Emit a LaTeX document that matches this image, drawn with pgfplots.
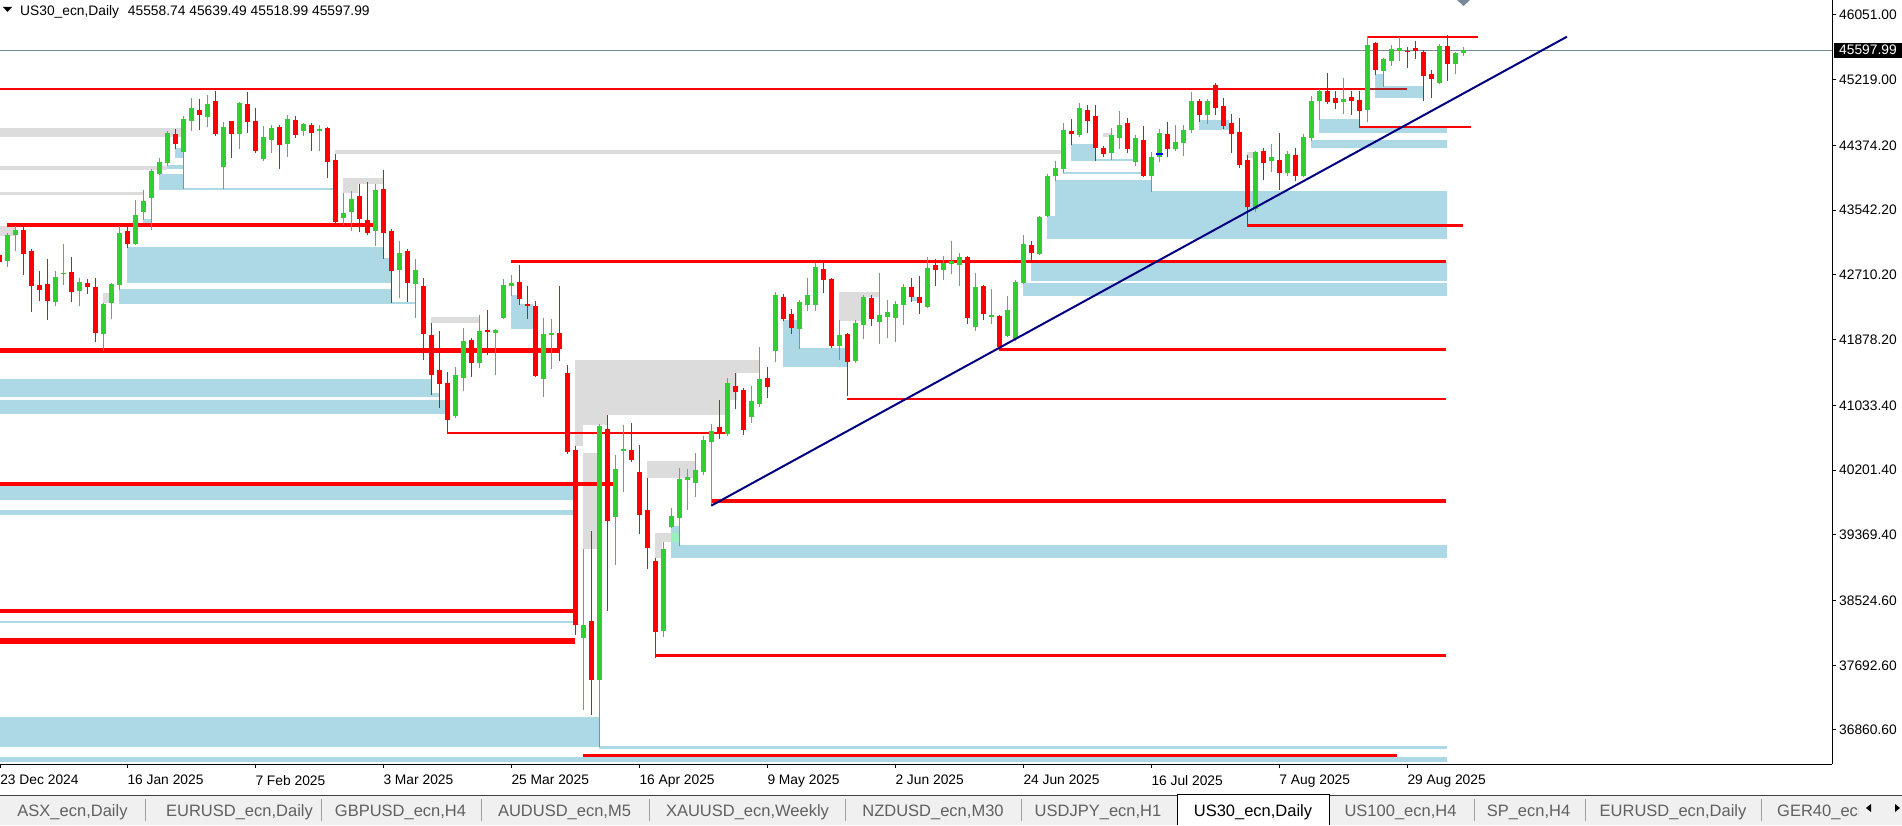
\documentclass[border=0pt]{standalone}
\usepackage{fontspec}
\setmainfont{Liberation Sans}
\usepackage{pgfplots}
\usepackage{pgfplotstable}
\pgfplotsset{compat=1.18}
\definecolor{cgreen}{HTML}{32CD32}
\definecolor{cred}{HTML}{FF0000}
\definecolor{dred}{HTML}{B22222}
\definecolor{zblue}{HTML}{ADD8E6}
\definecolor{zgray}{HTML}{DCDCDC}
\definecolor{lgreen}{HTML}{9BF0C0}
\definecolor{tline}{HTML}{000080}
\definecolor{pline}{HTML}{778899}
\definecolor{tabbg}{HTML}{F0F0F0}
\definecolor{tabtxt}{HTML}{606060}
\definecolor{tabsep}{HTML}{A0A0A0}
\newcommand{\lblfont}{\fontsize{13.8}{15}\selectfont}
\newcommand{\tabfont}{\fontsize{16.5}{18}\selectfont}
\newcommand{\zone}[5]{\addplot[draw=none, fill=#1, forget plot] coordinates {(#2,#4) (#3,#4) (#3,#5) (#2,#5)};}
\newcommand{\rline}[5]{\addplot[draw=#1, line width=#5pt, forget plot] coordinates {(#2,#4) (#3,#4)};}

% bar index (0 = 23 Dec 2024), open, high, low, close
\pgfplotstableread{
i O H L C
0 42966 43009 42837 42880
1 42893 43253 42816 43223
2 43227 43343 43022 43287
3 43287 43330 42709 42983
4 43017 43043 42237 42572
5 42580 42760 42379 42516
6 42593 42914 42135 42379
7 42366 42760 42315 42683
8 42722 43107 42584 42734
9 42747 42940 42366 42494
10 42507 42670 42315 42619
11 42606 42653 42469 42559
12 42554 42670 41852 41967
13 41955 42345 41736 42336
14 42353 42610 42147 42593
15 42584 43343 42516 43249
16 43262 43330 43060 43112
17 43112 43673 43094 43480
18 43523 43801 43416 43660
19 43703 44067 43287 44046
20 44007 44213 43994 44149
21 44153 44560 44110 44534
22 44521 44586 44329 44393
23 44294 44753 43814 44714
24 44693 44984 44564 44843
25 44830 44971 44573 44770
26 44744 45023 44616 44907
27 44933 45074 44500 44521
28 44101 44676 43819 44611
29 44676 44688 44217 44526
30 44526 44933 44333 44920
31 44907 45061 44538 44680
32 44688 44856 44281 44307
33 44204 44624 44179 44483
34 44448 44637 44281 44598
35 44611 44637 44076 44384
36 44397 44766 44230 44714
37 44701 44753 44474 44513
38 44564 44663 44500 44650
39 44637 44663 44307 44538
40 44564 44637 44307 44585
41 44598 44605 43951 44166
42 44187 44264 43373 43394
43 43446 43759 43352 43506
44 43523 43789 43279 43686
45 43712 43879 43266 43433
46 43416 43904 43219 43253
47 43279 43879 43086 43789
48 43814 44059 42919 43253
49 43262 43300 42353 42765
50 42777 43146 42417 42992
51 43017 43043 42366 42610
52 42597 42915 42160 42773
53 42567 42670 41620 41955
54 41938 42092 41171 41428
55 41488 41989 41003 41312
56 41321 41462 40669 40849
57 40901 41526 40875 41423
58 41389 42028 41222 41860
59 41873 41899 41402 41582
60 41582 42195 41518 41989
61 42002 42259 41685 41980
62 41968 42015 41428 42002
63 42160 42657 42148 42580
64 42572 42709 42443 42606
65 42619 42837 42328 42405
66 42332 42567 42148 42315
67 42310 42375 41402 41415
68 41376 42156 41145 41950
69 41942 42143 41505 41963
70 41963 42567 41608 41762
71 41449 41552 40412 40434
72 40447 40511 38086 38214
73 38047 39187 37121 38210
74 38261 39418 37057 37507
75 37507 40794 36646 40768
76 40729 40909 38394 39551
77 39602 40395 38985 40215
78 40451 40781 39924 40464
79 40459 40806 40309 40335
80 40177 40524 39384 39628
81 39688 40099 38934 39204
82 39032 39071 37790 38124
83 38137 39277 38060 39187
84 39474 39714 39452 39611
85 39590 40228 39230 40087
86 40078 40215 39692 40112
87 40039 40421 39859 40202
88 40181 40639 40142 40588
89 40566 40794 39744 40704
90 40755 41102 40605 40682
91 40669 41385 40644 41321
92 41282 41449 40991 41209
93 41231 41256 40656 40721
94 40888 41282 40811 41089
95 41055 41783 41016 41372
96 41385 41526 41132 41273
97 41736 42490 41595 42452
98 42426 42465 42122 42148
99 42199 42276 41955 42032
100 42019 42387 41762 42362
101 42327 42670 42250 42452
102 42327 42867 42250 42812
103 42786 42867 42482 42649
104 42657 42670 41775 41796
105 41800 42130 41620 41937
106 41950 41963 41158 41595
107 41608 42135 41582 42092
108 42070 42452 41890 42426
109 42413 42452 42058 42147
110 42109 42739 41826 42195
111 42173 42387 41903 42233
112 42160 42379 41852 42336
113 42327 42593 42070 42555
114 42555 42670 42366 42430
115 42426 42696 42212 42353
116 42302 42940 42280 42799
117 42837 42914 42572 42777
118 42777 42953 42649 42863
119 42854 43146 42726 42889
120 42842 42992 42572 42940
121 42940 42949 42083 42160
122 42045 42735 41993 42555
123 42567 42580 42135 42212
124 42173 42529 42083 42195
125 42182 42195 41745 41783
126 41929 42439 41916 42259
127 41890 42645 41865 42619
128 42610 43223 42597 43107
129 43094 43146 42902 42996
130 42983 43467 42970 43442
131 43472 44007 43458 43969
132 43986 44174 43921 44084
133 44076 44663 44024 44573
134 44560 44714 44384 44526
135 44513 44920 44487 44843
136 44830 44894 44530 44693
137 44753 44894 44178 44340
138 44341 44371 44230 44268
139 44281 44594 44191 44496
140 44474 44817 44333 44637
141 44663 44727 44281 44333
142 44166 44508 44114 44470
143 44444 44624 43973 43986
144 43986 44290 43780 44226
145 44230 44586 44166 44534
146 44521 44676 44230 44333
147 44333 44637 44307 44418
148 44410 44637 44243 44573
149 44577 45061 44538 44933
150 44945 44971 44680 44770
151 44770 44971 44654 44933
152 45151 45177 44770 44860
153 44881 44984 44590 44628
154 44663 44783 44281 44526
155 44547 44727 44088 44127
156 44187 44251 43330 43587
157 43561 44307 43523 44290
158 44303 44341 43934 44153
159 44178 44393 44037 44226
160 44187 44534 43806 44024
161 44024 44303 43986 44264
162 44251 44341 43921 43986
163 43986 44521 43973 44483
164 44474 45010 44436 44945
165 44945 45100 44706 45074
166 45074 45305 44911 44937
167 44984 45074 44847 44924
168 44937 45241 44783 44971
169 44997 45074 44770 44950
170 44958 45074 44616 44821
171 44834 45781 44680 45665
172 45691 45704 45284 45348
173 45335 45494 45130 45485
174 45464 45665 45400 45614
175 45593 45768 45464 45627
176 45588 45640 45374 45580
177 45627 45717 45490 45593
178 45575 45601 44950 45271
179 45292 45344 44988 45232
180 45181 45678 45168 45652
181 45652 45794 45207 45425
182 45425 45575 45297 45562
183 45558.74 45639.49 45518.99 45597.99
}\ohlc

\begin{document}
\begin{tikzpicture}
\useasboundingbox (0pt,0pt) rectangle (1902pt,825pt);
\begin{axis}[
  at={(0pt,61pt)}, anchor=south west,
  scale only axis, width=1832pt, height=764pt,
  xmin=0.0875, xmax=229.09, ymin=36423.3, ymax=46243.8,
  scaled x ticks=false, scaled y ticks=false,
  axis x line*=bottom, axis y line*=right,
  axis line style={black, line width=1pt},
  clip mode=individual,
  xtick={0.1,16,32,48,64,80,96,112,128,144,160,176},
  xticklabels={23 Dec 2024,16 Jan 2025,7 Feb 2025,3 Mar 2025,25 Mar 2025,16 Apr 2025,9 May 2025,2 Jun 2025,24 Jun 2025,16 Jul 2025,7 Aug 2025,29 Aug 2025},
  ytick={46051,45219,44374.2,43542.2,42710.2,41878.2,41033.4,40201.4,39369.4,38524.6,37692.6,36860.6},
  yticklabels={46051.00,45219.00,44374.20,43542.20,42710.20,41878.20,41033.40,40201.40,39369.40,38524.60,37692.60,36860.60},
  tick align=outside, major tick length=4pt,
  tick style={black, line width=1pt},
  xticklabel style={anchor=north west, inner sep=0pt, yshift=-7pt, font=\lblfont},
  yticklabel style={anchor=west, inner sep=0pt, xshift=3pt, font=\lblfont},
]
% gray zones
\zone{zgray}{0.0875}{22.84}{44598}{44483}
\zone{zgray}{0.0875}{20.96}{44110}{44058}
\zone{zgray}{0.0875}{17.96}{43776}{43737}
\zone{zgray}{0.0875}{1.96}{43339}{43210}
\zone{zgray}{12.96}{13.84}{42478}{42349}
\zone{zgray}{41.96}{132.96}{44316}{44264}
\zone{zgray}{42.96}{47.96}{43956}{43879}
\zone{zgray}{42.96}{44.84}{43879}{43763}
\zone{zgray}{53.96}{59.96}{42169}{42092}
\zone{zgray}{71.96}{94.96}{41616}{41449}
\zone{zgray}{71.96}{92.21}{41449}{41102}
\zone{zgray}{71.96}{90.71}{41102}{40909}
\zone{zgray}{71.96}{75.96}{40909}{40781}
\zone{zgray}{71.96}{72.96}{40781}{40511}
\zone{zgray}{72.96}{74.71}{40421}{39187}
\zone{zgray}{80.96}{86.96}{40318}{40100}
\zone{zgray}{81.96}{83.96}{39393}{39277}
\zone{zgray}{81.96}{82.8}{39277}{39071}
\zone{zgray}{104.96}{109.96}{42490}{42426}
\zone{zgray}{104.96}{107.71}{42426}{42118}
\zone{zgray}{137.96}{138.96}{44534}{44483}
\zone{zgray}{155.96}{156.71}{44290}{44213}
% blue zones
\zone{zblue}{21.96}{22.96}{44341}{44213}
\zone{zblue}{20.96}{22.96}{44123}{44072}
\zone{zblue}{19.96}{22.96}{44007}{43801}
\zone{zblue}{22.96}{41.84}{43827}{43801}
\zone{zblue}{17.96}{19.09}{43429}{43364}
\zone{zblue}{15.96}{47.96}{43069}{42606}
\zone{zblue}{47.96}{49.09}{42927}{42606}
\zone{zblue}{14.96}{49.09}{42529}{42336}
\zone{zblue}{49.09}{51.96}{42362}{42336}
\zone{zblue}{63.96}{64.96}{42452}{42015}
\zone{zblue}{64.96}{66.71}{42336}{42015}
\zone{zblue}{0.0875}{53.96}{41372}{41141}
\zone{zblue}{53.96}{54.96}{41190}{41141}
\zone{zblue}{0.0875}{55.71}{41102}{40922}
\zone{zblue}{0.0875}{71.71}{39997}{39817}
\zone{zblue}{0.0875}{71.71}{39688}{39624}
\zone{zblue}{0.0875}{71.71}{38262}{38236}
\zone{zblue}{0.0875}{74.96}{37028}{36642}
\zone{zblue}{74.96}{180.96}{36655}{36616}
\zone{zblue}{0.0875}{180.96}{36517}{36450}
\zone{zblue}{83.96}{180.96}{39238}{39071}
\zone{zblue}{83.96}{84.96}{39483}{39238}
\zone{zblue}{97.96}{99.96}{42131}{41526}
\zone{zblue}{99.96}{105.96}{41771}{41526}
\zone{zblue}{113.96}{114.96}{42426}{42375}
\zone{zblue}{127.96}{180.96}{42606}{42439}
\zone{zblue}{128.96}{180.96}{42876}{42632}
\zone{zblue}{131.96}{143.96}{43930}{43789}
\zone{zblue}{131.96}{180.96}{43789}{43467}
\zone{zblue}{130.96}{180.96}{43467}{43172}
\zone{zblue}{132.96}{142.96}{44033}{44007}
\zone{zblue}{133.96}{136.96}{44393}{44174}
\zone{zblue}{136.96}{141.71}{44195}{44174}
\zone{zblue}{149.96}{153.71}{44701}{44573}
\zone{zblue}{163.96}{180.96}{44444}{44341}
\zone{zblue}{164.96}{170.09}{44714}{44598}
\zone{zblue}{164.96}{180.96}{44598}{44534}
\zone{zblue}{171.96}{172.96}{45293}{45138}
\zone{zblue}{171.96}{177.96}{45138}{44984}
\zone{lgreen}{83.96}{84.96}{39393}{39277}
% red levels
\rline{cred}{0.0875}{170.96}{45104}{2}
\rline{dred}{170.96}{175.96}{45104}{2}
\rline{cred}{0.96}{46.71}{43352}{3.5}
\rline{cred}{0.0875}{70.09}{41738}{5}
\rline{cred}{63.96}{180.84}{42882}{2.5}
\rline{cred}{55.96}{90.96}{40678}{2.5}
\rline{cred}{0.0875}{76.71}{40023}{4}
\rline{cred}{0.0875}{71.71}{38390}{4}
\rline{cred}{0.0875}{71.96}{38004}{5.5}
\rline{cred}{72.96}{174.71}{36539}{3}
\rline{cred}{81.96}{180.84}{37816}{2.5}
\rline{cred}{89.0}{180.84}{39810}{4}
\rline{cred}{105.96}{180.84}{41115}{2.5}
\rline{cred}{124.96}{180.84}{41745}{3}
\rline{cred}{155.96}{182.96}{43345}{3}
\rline{cred}{169.96}{183.96}{44611}{2.5}
\rline{cred}{170.96}{184.84}{45768}{2}
% current price line
\addplot[draw=pline, line width=1pt, forget plot] coordinates {(0.0875,45597.99) (229.09,45597.99)};
% candles: wicks
\addplot[draw=none, mark=none, forget plot,
  error bars/.cd, y dir=plus, y explicit, error mark=none,
  error bar style={draw=cgreen, line width=1pt}]
  table[x=i, y expr={\thisrow{C}>=\thisrow{O} ? \thisrow{L} : nan}, y error plus expr={\thisrow{H}-\thisrow{L}}] {\ohlc};
\addplot[draw=none, mark=none, forget plot,
  error bars/.cd, y dir=plus, y explicit, error mark=none,
  error bar style={draw=cred, line width=1pt}]
  table[x=i, y expr={\thisrow{C}<\thisrow{O} ? \thisrow{L} : nan}, y error plus expr={\thisrow{H}-\thisrow{L}}] {\ohlc};
% candles: bodies
\addplot[draw=none, mark=none, forget plot,
  error bars/.cd, y dir=plus, y explicit, error mark=none,
  error bar style={draw=cgreen, line width=5pt}]
  table[x=i, y expr={\thisrow{C}>=\thisrow{O} ? \thisrow{O} : nan}, y error plus expr={\thisrow{C}-\thisrow{O}+6}] {\ohlc};
\addplot[draw=none, mark=none, forget plot,
  error bars/.cd, y dir=plus, y explicit, error mark=none,
  error bar style={draw=cred, line width=5pt}]
  table[x=i, y expr={\thisrow{C}<\thisrow{O} ? \thisrow{C} : nan}, y error plus expr={\thisrow{O}-\thisrow{C}+6}] {\ohlc};
% small marker
\addplot[draw=blue, line width=1.5pt, forget plot] coordinates {(144.6,44262) (145.5,44262)};
% trend line
\addplot[draw=tline, line width=2pt, forget plot] coordinates {(89.0,39744) (195.96,45772)};
% price label
\node[fill=black, text=white, anchor=west, xshift=2pt, inner xsep=5pt, inner ysep=0pt, minimum height=15pt, font=\lblfont] at (axis cs:229.09,45597.99) {45597.99};
\end{axis}
% header
\fill[black] (3pt,818pt) -- (12pt,818pt) -- (7.5pt,813pt) -- cycle;
\node[anchor=base west, inner sep=0pt, font=\lblfont] at (20pt,809pt) {US30\_ecn,Daily\hspace{5pt} 45558.74 45639.49 45518.99 45597.99};
% chart shift marker
\fill[pline] (1457pt,825pt) -- (1470pt,825pt) -- (1463.5pt,819pt) -- cycle;
% tab bar
\fill[tabbg] (0pt,0pt) rectangle (1902pt,30pt);
\draw[black!75, line width=1pt] (0pt,30pt) -- (1902pt,30pt);
\fill[white] (1177pt,0pt) rectangle (1329pt,30pt);
\draw[black, line width=1pt] (1177pt,0pt) -- (1177pt,30.5pt) -- (1329pt,30.5pt) -- (1329pt,0pt);
\foreach \s in {145.5,321,481,649.5,845.5,1021,1474,1585,1761} {\draw[tabsep, line width=1pt] (\s pt,4pt) -- (\s pt,26pt);}
\begin{scope}[every node/.style={anchor=base, inner sep=0pt, font=\tabfont, text=tabtxt}]
\node at (72.5pt,9pt) {ASX\_ecn,Daily};
\node at (239.5pt,9pt) {EURUSD\_ecn,Daily};
\node at (400.5pt,9pt) {GBPUSD\_ecn,H4};
\node at (564.5pt,9pt) {AUDUSD\_ecn,M5};
\node at (747.5pt,9pt) {XAUUSD\_ecn,Weekly};
\node at (933pt,9pt) {NZDUSD\_ecn,M30};
\node at (1098pt,9pt) {USDJPY\_ecn,H1};
\node[text=black] at (1253pt,9pt) {US30\_ecn,Daily};
\node at (1400.5pt,9pt) {US100\_ecn,H4};
\node at (1528.5pt,9pt) {SP\_ecn,H4};
\node at (1673pt,9pt) {EURUSD\_ecn,Daily};
\end{scope}
\begin{scope}
\clip (1762pt,0pt) rectangle (1858pt,30pt);
\node[anchor=base west, inner sep=0pt, font=\tabfont, text=tabtxt] at (1777pt,9pt) {GER40\_ecn};
\end{scope}
\fill[black] (1871pt,21pt) -- (1871pt,13pt) -- (1866pt,17pt) -- cycle;
\fill[black] (1895pt,21pt) -- (1895pt,13pt) -- (1900pt,17pt) -- cycle;
\end{tikzpicture}
\end{document}
